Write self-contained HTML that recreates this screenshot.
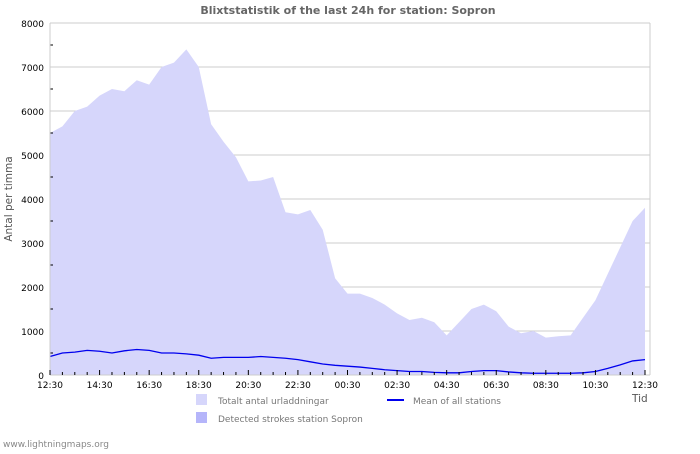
<!DOCTYPE html>
<html><head><meta charset="utf-8"><style>
body{margin:0;background:#fff;width:700px;height:450px;overflow:hidden;font-family:"DejaVu Sans","Liberation Sans",sans-serif}
</style></head><body>
<svg width="700" height="450" xmlns="http://www.w3.org/2000/svg">
<text x="348" y="14" text-anchor="middle" font-size="11" font-weight="bold" fill="#666">Blixtstatistik of the last 24h for station: Sopron</text>
<g id="grid"></g>
<path id="area" fill="#d6d6fb"/>
<path id="mean" fill="none" stroke="#0000ee" stroke-width="1.3"/>
<g id="axes"></g>
<text transform="translate(12,199) rotate(-90)" text-anchor="middle" font-size="10.5" fill="#555">Antal per timma</text>
<text x="632" y="402" font-size="10.5" fill="#555">Tid</text>
<rect x="196" y="394" width="11" height="11" fill="#d6d6fb"/>
<text x="218" y="404" font-size="9" fill="#777">Totalt antal urladdningar</text>
<rect x="196" y="412" width="11" height="11" fill="#b5b5fa"/>
<text x="218" y="422" font-size="9" fill="#777">Detected strokes station Sopron</text>
<line x1="387" y1="400" x2="404" y2="400" stroke="#0000ee" stroke-width="2"/>
<text x="413" y="404" font-size="9" fill="#777">Mean of all stations</text>
<text x="3" y="447" font-size="9" fill="#888">www.lightningmaps.org</text>
</svg>
<script>
const totals=[5500,5650,6000,6100,6350,6500,6450,6700,6600,7000,7100,7400,7000,5700,5300,4950,4400,4420,4500,3700,3650,3750,3300,2200,1850,1850,1750,1600,1400,1250,1300,1200,900,1200,1500,1600,1450,1100,950,1000,850,880,900,1300,1700,2300,2900,3500,3800];
const means=[420,500,520,560,540,500,550,580,560,500,500,480,450,380,400,400,400,420,400,380,350,300,250,220,200,180,150,120,100,80,80,60,50,50,80,100,100,70,50,40,40,40,40,50,80,150,230,320,350];
const yTicks=[0,1000,2000,3000,4000,5000,6000,7000,8000];
const xLabels=["12:30","14:30","16:30","18:30","20:30","22:30","00:30","02:30","04:30","06:30","08:30","10:30","12:30"];
const L=50,R=650,T=23,B=375,X0=50,X1=645;
const ns="http://www.w3.org/2000/svg";
const y=v=>B-(v/8000)*(B-T);
const x=i=>X0+i*(X1-X0)/(totals.length-1);
let d="M"+x(0)+","+B;totals.forEach((v,i)=>{d+=" L"+x(i)+","+y(v)});d+=" L"+x(totals.length-1)+","+B+"Z";
document.getElementById('area').setAttribute('d',d);
document.getElementById('mean').setAttribute('d',means.map((v,i)=>(i?"L":"M")+x(i)+","+y(v)).join(" "));
const g=document.getElementById('grid'),a=document.getElementById('axes');
function mk(p,tag,at,txt){const e=document.createElementNS(ns,tag);for(const k in at)e.setAttribute(k,at[k]);if(txt)e.textContent=txt;p.appendChild(e);return e;}
yTicks.forEach(v=>{
 if(v>0){const l=mk(g,'line',{x1:L,x2:R,y1:y(v),y2:y(v),stroke:'#ccc'});
 
 }
 const t=mk(a,'text',{x:44,y:y(v)+4,'text-anchor':'end','font-size':9,fill:'#000'},String(v));
 
 
 if(v<8000){const m=mk(a,'line',{x1:L,x2:L+3,y1:y(v+500),y2:y(v+500),stroke:'#000'});
 
 }
});
mk(a,'line',{x1:L,x2:L,y1:T,y2:B,stroke:'#ccc'});
mk(a,'line',{x1:R,x2:R,y1:T,y2:B,stroke:'#ccc'});
mk(a,'line',{x1:L,x2:R,y1:B,y2:B,stroke:'#ccc'});
for(let i=0;i<=48;i++){const xx=X0+i*(X1-X0)/48;const maj=i%4==0;
 const tk=mk(a,'line',{x1:xx,x2:xx,y1:B-(maj?5:3),y2:B,stroke:'#000'});
 
 }
xLabels.forEach((s,i)=>{const t=mk(a,'text',{x:X0+i*(X1-X0)/12,y:388,'text-anchor':'middle','font-size':9,fill:'#000'},s);
 
 });
</script>
</body></html>
